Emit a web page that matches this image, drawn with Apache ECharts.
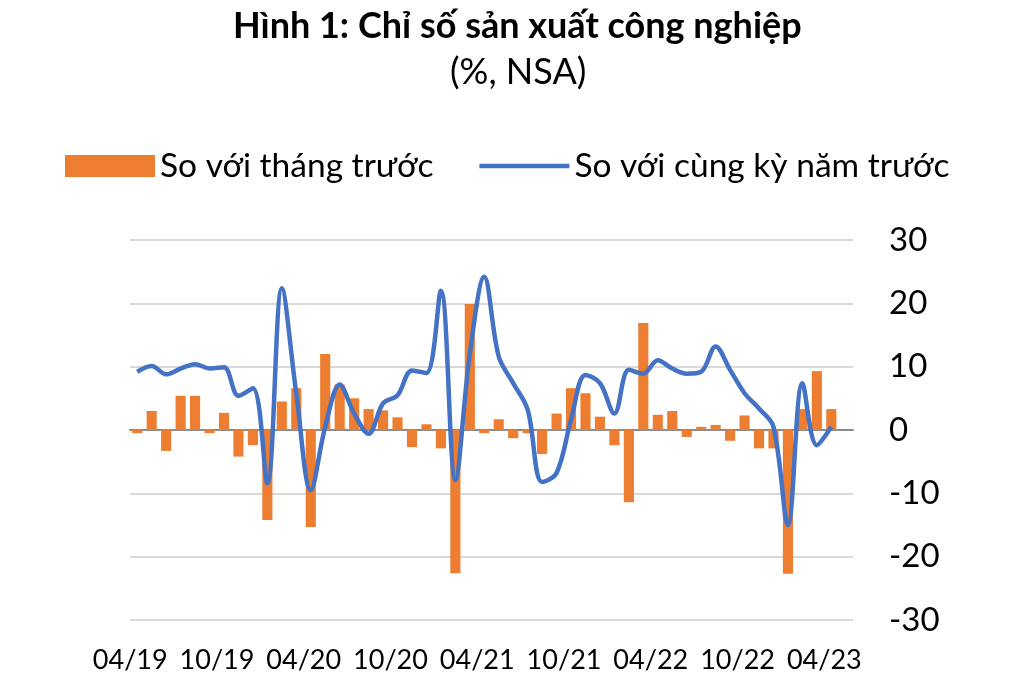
<!DOCTYPE html>
<html lang="vi">
<head>
  <meta charset="UTF-8">
  <title>Chỉ số sản xuất công nghiệp</title>
  <script src="https://cdn.jsdelivr.net/npm/echarts@6/dist/echarts.min.js"></script>
  <style>
    html, body { margin: 0; padding: 0; background: #fff; }
    #chart { width: 1010px; height: 688px; }
  </style>
</head>
<body>
  <div id="chart"></div>

  <script>
    // tháng 04/19 -> 05/23 (tháng cuối để trống như trong hình gốc)
    var months = [
      '04/19','05/19','06/19','07/19','08/19','09/19','10/19','11/19','12/19',
      '01/20','02/20','03/20','04/20','05/20','06/20','07/20','08/20','09/20','10/20','11/20','12/20',
      '01/21','02/21','03/21','04/21','05/21','06/21','07/21','08/21','09/21','10/21','11/21','12/21',
      '01/22','02/22','03/22','04/22','05/22','06/22','07/22','08/22','09/22','10/22','11/22','12/22',
      '01/23','02/23','03/23','04/23','05/23'
    ]
    // So với tháng trước (%)
    var momData = [
      -0.5, 3.0, -3.3, 5.4, 5.4, -0.5, 2.7, -4.2, -2.4,
      -14.2, 4.5, 6.6, -15.3, 12.0, 7.2, 5.0, 3.3, 3.1, 2.0, -2.7, 0.9,
      -2.9, -22.6, 19.9, -0.5, 1.7, -1.3, -0.5, -3.8, 2.6, 6.6, 5.8, 2.1,
      -2.4, -11.4, 16.9, 2.4, 3.0, -1.1, 0.5, 0.8, -1.7, 2.3, -2.9, -2.9,
      -22.7, 3.3, 9.3, 3.3, null
    ]
    // So với cùng kỳ năm trước (%)
    var yoyData = [
      9.2, 10.1, 8.8, 9.7, 10.4, 9.7, 9.9, 5.4, 6.6,
      -8.4, 22.4, 5.8, -9.5, 0.5, 7.2, 2.6, -0.6, 4.2, 5.5, 9.4, 9.0,
      22.0, -7.9, 12.0, 24.2, 11.6, 7.4, 3.2, -8.2, -6.8, 1.6, 8.7, 7.4,
      2.6, 9.5, 8.9, 11.0, 9.7, 8.9, 9.2, 13.2, 9.5, 5.8, 3.4, 0.5,
      -15.0, 7.4, -2.4, 0.5, null
    ]
    var yTicks = [-30, -20, -10, 0, 10, 20, 30]

    var chart = echarts.init(document.getElementById('chart'))
    var font = 'Lato, "Noto Sans", sans-serif'

    var option = {
      animation: false,
      textStyle: { fontFamily: font },
      title: [
        {
          text: 'Hình 1: Chỉ số sản xuất công nghiệp',
          left: 228,
          top: 3,
          textStyle: { fontSize: 36, fontWeight: 'bold', color: '#000', fontFamily: font }
        },
        {
          text: '(%, NSA)',
          left: 445,
          top: 49,
          textStyle: { fontSize: 36, fontWeight: 'normal', color: '#000', fontFamily: font }
        }
      ],
      legend: {
        left: 60,
        top: 144,
        itemWidth: 90,
        itemHeight: 22,
        itemGap: 46,
        textStyle: { fontSize: 33.5, color: '#000', fontFamily: font },
        data: [
          { name: 'So với tháng trước', icon: 'rect' },
          { name: 'So với cùng kỳ năm trước', icon: 'path://M0,0H90V4.5H0Z' }
        ]
      },
      grid: {
        left: 130,
        right: 157,
        top: 240,
        bottom: 68
      },
      xAxis: {
        type: 'category',
        data: months,
        boundaryGap: true,
        axisLine: { lineStyle: { color: '#8c8c8c', width: 2 } },
        axisTick: { interval: 5, length: 9, lineStyle: { color: '#8c8c8c', width: 2 } },
        axisLabel: {
          interval: 5,
          margin: 27,
          fontSize: 27,
          color: '#000',
          padding: [0, 14, 0, 0]
        },
        splitLine: { show: false }
      },
      yAxis: {
        type: 'value',
        position: 'right',
        min: yTicks[0],
        max: yTicks[yTicks.length - 1],
        interval: 10,
        axisLine: { show: false },
        axisTick: { show: false },
        axisLabel: { margin: 36, fontSize: 33, color: '#000', align: 'left' },
        splitLine: { lineStyle: { color: '#d9d9d9', width: 2 } }
      },
      series: [
        {
          name: 'So với tháng trước',
          type: 'bar',
          data: momData,
          barWidth: '70%',
          itemStyle: { color: '#ED7D31' }
        },
        {
          name: 'So với cùng kỳ năm trước',
          type: 'line',
          data: yoyData,
          smooth: 0.35,
          symbol: 'none',
          lineStyle: { color: '#4472C4', width: 4.5 },
          itemStyle: { color: '#4472C4' }
        }
      ]
    }
    chart.setOption(option)
  </script>
</body>
</html>
